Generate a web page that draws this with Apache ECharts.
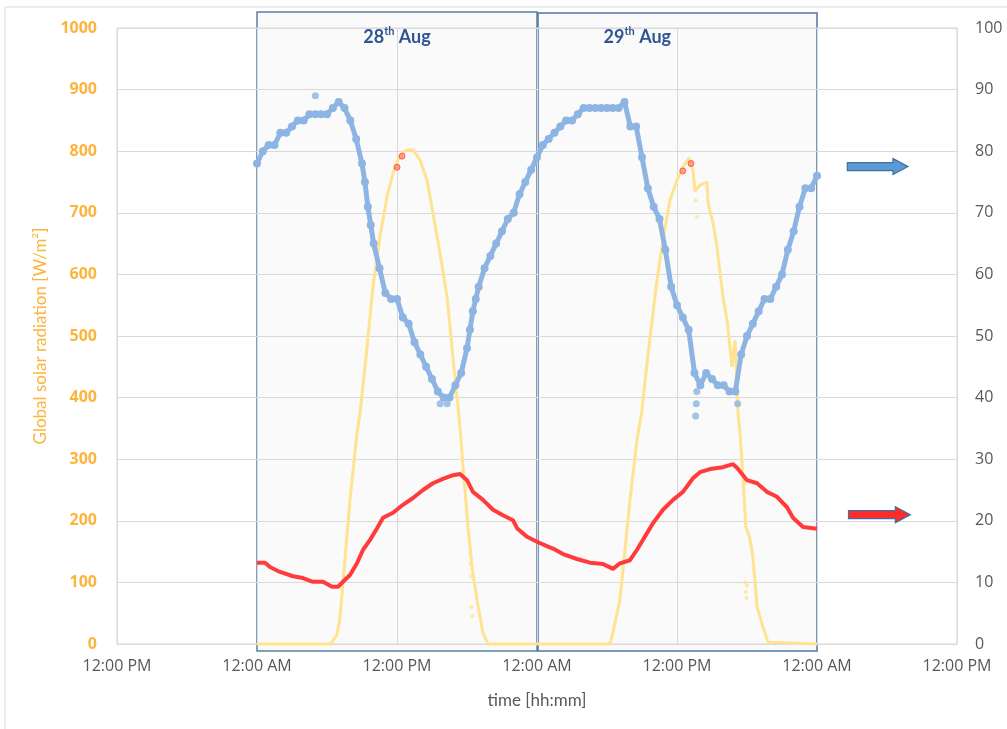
<!DOCTYPE html>
<html>
<head>
<meta charset="utf-8">
<script src="https://cdn.jsdelivr.net/npm/echarts@6/dist/echarts.min.js"></script>
<style>
html,body{margin:0;padding:0;background:#fff;}
#main{width:1007px;height:729px;}
</style>
</head>
<body>
<div id="main"></div>
<script>
// ---- DATA (x = hours since 27 Aug 12:00 PM) ----
const xTickLabels = ['12:00 PM','12:00 AM','12:00 PM','12:00 AM','12:00 PM','12:00 AM','12:00 PM'];
const dayLabels = ['28', '29'];

// Global solar radiation [W/m2] (left axis)
const radiation = [
  [12,0],[18.3,0],[18.5,5],[18.85,15],[19.1,40],[19.37,99],[19.97,234],[20.57,342],[20.83,375],
  [21.43,482],[21.94,580],[22.54,661],[23.14,726],[23.66,764],[24.08,786],[24.5,798],[24.86,802],
  [25.37,802],[25.97,786],[26.57,753],[27.08,700],[27.69,634],[28.29,564],[28.71,482],[29.14,401],
  [29.4,352],[29.66,288],[30.09,190],[30.43,125],[30.86,71],[31.37,18],[31.8,0],
  [42.26,0],[42.5,18],[43.1,71],[43.54,153],[43.97,234],[44.57,331],[45.0,380],[45.43,456],
  [45.94,537],[46.29,591],[46.8,656],[47.4,721],[48.0,753],[48.51,774],[49.03,789],[49.37,769],
  [49.54,735],[49.97,745],[50.57,750],[50.66,716],[51.09,683],[51.43,645],[51.69,602],[51.94,564],
  [52.29,526],[52.54,482],[52.72,450],[52.97,493],[53.14,428],[53.23,375],[53.4,342],[53.66,270],
  [53.9,190],[54.2,175],[54.45,150],[54.7,100],[54.86,60],[55.37,28],[55.8,3],[55.97,0],[60,0]
];
const radiationScatter = [
  [30.25,148],[30.3,130],[30.35,110],[30.4,60],[30.45,45],
  [49.6,720],[49.71,693],[53.8,260],[53.85,100],[53.9,85],[53.95,75],[54.0,95]
];
const radiationMarked = [[24.0,774],[24.43,792],[48.5,768],[49.2,780]];

// Relative humidity [%] (right axis)
const humidity = [
  [12,78],[12.5,80],[13,81],[13.5,81],[14,83],[14.5,83],[15,84],[15.5,85],[16,85],[16.5,86],
  [17,86],[17.5,86],[18,86],[18.5,87],[19,88],[19.5,87],[20,85],[20.5,82],[21,78],[21.25,75],
  [21.5,71],[21.75,68],[22,65],[22.5,61],[23,57],[23.5,56],[24,56],[24.5,53],[25,52],[25.5,49],
  [26,47],[26.5,45],[27,43],[27.5,41],[28,40],[28.5,40],[29,42],[29.5,44],[30,48],[30.25,51],
  [30.5,54],[30.75,56],[31,58],[31.5,61],[32,63],[32.5,65],[33,67],[33.5,69],[34,70],[34.5,73],
  [35,75],[35.5,77],[36,79],
  [36.5,81],[37,82],[37.5,83],[38,84],[38.5,85],[39,85],[39.5,86],[40,87],[40.5,87],[41,87],
  [41.5,87],[42,87],[42.5,87],[43,87],[43.5,88],[44,84],[44.5,84],[45,79],[45.5,74],[46,71],
  [46.5,69],[47,64],[47.5,58],[48,55],[48.5,53],[49,51],[49.5,44],[50,42],[50.5,44],[51,43],
  [51.5,42],[52,42],[52.5,41],[53,41],[53.5,47],[54,50],[54.5,52],[55,54],[55.5,56],[56,56],
  [56.5,58],[57,60],[57.5,64],[58,67],[58.5,71],[59,74],[59.5,74],[60,76]
];
const humidityScatter = [[17,89],[27.7,39],[28.3,39],[49.6,37],[49.65,39],[49.7,41],[53.2,39]];

// Air temperature [°C] (right axis)
const temperature = [
  [12,13.2],[12.69,13.2],[13.11,12.5],[13.97,11.7],[15.09,11.0],[15.94,10.7],[16.8,10.1],
  [17.66,10.1],[18.43,9.3],[18.94,9.3],[19.37,10.1],[19.97,11.2],[20.57,13.1],[21.09,15.3],
  [21.69,16.9],[22.29,18.8],[22.8,20.5],[23.66,21.3],[24.51,22.6],[25.37,23.7],[26.23,25.0],
  [27.08,26.1],[27.94,26.8],[28.8,27.4],[29.4,27.6],[30.0,26.6],[30.51,24.7],[31.37,23.4],
  [32.23,21.8],[33.08,20.9],[33.94,20.1],[34.29,18.8],[35.14,17.4],[36.0,16.6],[36.94,15.8],
  [37.37,15.5],[38.23,14.6],[39.43,13.8],[40.54,13.2],[41.66,13.0],[42.51,12.2],[43.11,13.1],
  [43.97,13.6],[44.57,15.3],[45.43,18.0],[45.94,19.6],[46.8,21.8],[47.66,23.4],[48.51,24.7],
  [49.37,26.9],[49.97,27.9],[50.83,28.4],[51.94,28.7],[52.8,29.2],[53.14,28.6],[54.0,26.6],
  [54.86,26.1],[55.71,24.7],[56.57,23.9],[57.43,22.2],[57.94,20.5],[58.8,19.0],[60,18.7]
];

// arrow markers: [right-axis value, x start hour, x end hour]
const arrowBlue = [77.5, 62.6, 67.8];
const arrowRed = [21, 62.7, 68.0];

// ---- CHART ----
const FONT = "'Open Sans', sans-serif";
const NAMEFONT = "Lato, 'Open Sans', sans-serif";
const chart = echarts.init(document.getElementById('main'), null, {renderer: 'canvas'});
const option = {
  backgroundColor: '#ffffff',
  animation: false,
  grid: {left: 117, right: 50, top: 28, bottom: 85, show: true, borderColor: '#d9d9d9', borderWidth: 1, backgroundColor: 'transparent'},
  xAxis: {
    type: 'value', min: 0, max: 72, interval: 12,
    name: 'time [hh:mm]', nameLocation: 'middle', nameGap: 48,
    nameTextStyle: {color: '#595959', fontSize: 17, fontFamily: NAMEFONT},
    axisLine: {show: true, lineStyle: {color: '#d9d9d9', width: 1}},
    axisTick: {show: false},
    splitLine: {show: true, lineStyle: {color: '#d9d9d9', width: 1}},
    axisLabel: {color: '#595959', fontSize: 16, fontFamily: FONT, margin: 14,
      formatter: v => xTickLabels[Math.round(v / 12)]}
  },
  yAxis: [
    {
      type: 'value', min: 0, max: 1000, interval: 100, position: 'left',
      name: 'Global solar radiation [W/m²]', nameLocation: 'middle', nameGap: 64, nameRotate: 90,
      nameTextStyle: {color: '#FDB43C', fontSize: 17, fontFamily: NAMEFONT},
      axisLine: {show: false}, axisTick: {show: false},
      splitLine: {show: true, lineStyle: {color: '#d9d9d9', width: 1}},
      axisLabel: {color: '#FDB43C', fontSize: 16, fontWeight: 'bold', fontFamily: FONT, margin: 20,
        formatter: v => String(v)}
    },
    {
      type: 'value', min: 0, max: 100, interval: 10, position: 'right',
      axisLine: {show: false}, axisTick: {show: false}, splitLine: {show: false},
      axisLabel: {color: '#595959', fontSize: 16, fontFamily: FONT, margin: 18,
        formatter: v => String(v)}
    }
  ],
  series: [
    {
      name: 'radiation', type: 'line', yAxisIndex: 0, data: radiation, clip: false,
      showSymbol: false, symbol: 'none', z: 2,
      lineStyle: {color: '#FFE391', width: 3}
    },
    {
      name: 'radiationScatter', type: 'scatter', yAxisIndex: 0, data: radiationScatter,
      symbolSize: 4, z: 2, itemStyle: {color: '#FFE391'}
    },
    {
      name: 'humidity', type: 'line', yAxisIndex: 1, data: humidity,
      symbol: 'circle', symbolSize: 8, showSymbol: true, z: 3,
      lineStyle: {color: '#8DB4E2', width: 5},
      itemStyle: {color: '#8DB4E2', borderWidth: 0}
    },
    {
      name: 'humidityScatter', type: 'scatter', yAxisIndex: 1, data: humidityScatter,
      symbolSize: 7, z: 3, itemStyle: {color: '#8DB4E2'}
    },
    {
      name: 'temperature', type: 'line', yAxisIndex: 1, data: temperature,
      showSymbol: false, symbol: 'none', z: 4,
      lineStyle: {color: '#FF3B3B', width: 4}
    },
    {
      name: 'marked', type: 'scatter', yAxisIndex: 0, data: radiationMarked,
      symbolSize: 6, z: 5, itemStyle: {color: '#FF8C69', borderColor: '#FF4A3A', borderWidth: 1}
    }
  ]
};
chart.setOption(option);

function toPx(h, v, yIdx) {
  return chart.convertToPixel({xAxisIndex: 0, yAxisIndex: yIdx}, [h, v]);
}
function arrowShape(spec) {
  const a = toPx(spec[1], spec[0], 1);
  const b = toPx(spec[2], spec[0], 1);
  const x0 = a[0], x1 = b[0], y = a[1];
  const head = 15, body = 4, wing = 8;
  return [[x0, y - body], [x1 - head, y - body], [x1 - head, y - wing], [x1, y],
          [x1 - head, y + wing], [x1 - head, y + body], [x0, y + body]];
}
const topPx = toPx(0, 1000, 0)[1];
const botPx = toPx(0, 0, 0)[1];
const b1 = toPx(12, 0, 0)[0], b2 = toPx(36, 0, 0)[0], b3 = toPx(60, 0, 0)[0];
const boxTop = topPx - 16, boxBot = botPx + 7;
const lab1 = toPx(24, 0, 0)[0], lab2 = toPx(44.6, 0, 0)[0];
const BLUE = '#2F5597';
const richStyle = {
  b: {fontSize: 18, fontWeight: 'bold', fontFamily: NAMEFONT, color: BLUE, fill: BLUE, lineHeight: 22},
  s: {fontSize: 11, fontWeight: 'bold', fontFamily: NAMEFONT, color: BLUE, fill: BLUE, verticalAlign: 'top', lineHeight: 22, padding: [0, 0, 8, 0]}
};
chart.setOption({
  graphic: [
    {type: 'rect', silent: true, z: -10, shape: {x: 5, y: 7, width: 1010, height: 730},
      style: {fill: '#ffffff', stroke: '#d9d9d9', lineWidth: 1}},
    {type: 'rect', silent: true, z: -5, shape: {x: b1, y: boxTop, width: b2 - b1, height: boxBot - boxTop},
      style: {fill: 'rgba(0,0,0,0.018)', stroke: '#5A7FA8', lineWidth: 1.5}},
    {type: 'rect', silent: true, z: -5, shape: {x: b2 + 1, y: boxTop + 1, width: b3 - b2 - 1, height: boxBot - boxTop - 1},
      style: {fill: 'rgba(0,0,0,0.018)', stroke: '#4F76A3', lineWidth: 1.5}},
    {type: 'text', silent: true, z: 10, x: lab1, y: boxTop + 25,
      style: {text: '{b|' + dayLabels[0] + '}{s|th}{b| Aug}', rich: richStyle, fill: BLUE, align: 'center', verticalAlign: 'middle'}},
    {type: 'text', silent: true, z: 10, x: lab2, y: boxTop + 25,
      style: {text: '{b|' + dayLabels[1] + '}{s|th}{b| Aug}', rich: richStyle, fill: BLUE, align: 'center', verticalAlign: 'middle'}},
    {type: 'polygon', silent: true, z: 10, shape: {points: arrowShape(arrowBlue)},
      style: {fill: '#5B9BD5', stroke: '#41719C', lineWidth: 1.2}},
    {type: 'polygon', silent: true, z: 10, shape: {points: arrowShape(arrowRed)},
      style: {fill: '#FF2B2B', stroke: '#41719C', lineWidth: 1.2}}
  ]
});
</script>
</body>
</html>
